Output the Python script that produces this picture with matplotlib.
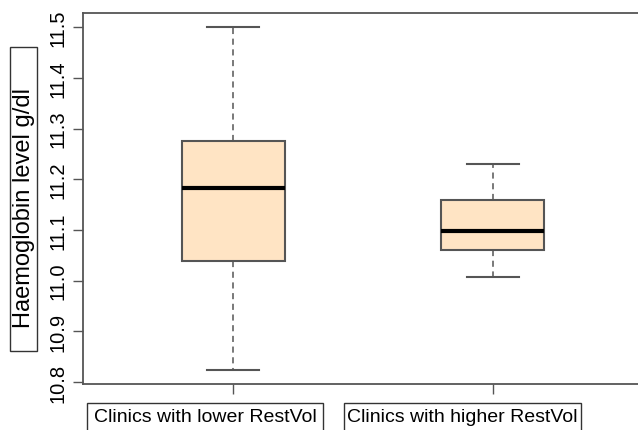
import matplotlib
matplotlib.use("Agg")
import matplotlib.pyplot as plt
from matplotlib.patches import Rectangle

# data
groups = ["Clinics with lower RestVol", "Clinics with higher RestVol"]
whisker_low = [10.823, 11.007]
q1 = [11.038, 11.061]
median = [11.183, 11.098]
q3 = [11.275, 11.159]
whisker_high = [11.500, 11.231]
yticks = [10.8, 10.9, 11.0, 11.1, 11.2, 11.3, 11.4, 11.5]
ylabel = "Haemoglobin level g/dl"

plt.rcParams['font.family'] = ['Liberation Sans', 'DejaVu Sans']

W, H = 638, 431
fig = plt.figure(figsize=(W / 100, H / 100), dpi=100)
ax = fig.add_axes([83 / W, 1 - 384.5 / H, (643 - 83) / W, (384.5 - 14) / H])

stats = []
for i in range(len(groups)):
    stats.append(dict(whislo=whisker_low[i], q1=q1[i], med=median[i],
                      q3=q3[i], whishi=whisker_high[i], fliers=[]))

grey = '#555555'
ax.bxp(stats, positions=[1, 2], widths=0.4, patch_artist=True, showfliers=False,
       boxprops=dict(facecolor='#FFE4C4', edgecolor=grey, linewidth=1.5),
       medianprops=dict(color='black', linewidth=3),
       whiskerprops=dict(color=grey, linestyle=(0, (4, 3)), linewidth=1.1),
       capprops=dict(color=grey, linewidth=1.5))

ax.set_xlim(0.42, 2.58)
ax.set_ylim(10.797, 11.528)
ax.set_xticks([1, 2])
ax.set_xticklabels(['', ''])
ax.set_yticks(yticks)
ax.set_yticklabels([f"{v:.1f}" for v in yticks], rotation=90, va='center')
ax.tick_params(axis='both', direction='out', length=7, width=1, color=grey,
               labelsize=14.5, pad=4)
for s in ax.spines.values():
    s.set_color(grey)
    s.set_linewidth(1.3)

# x group labels in boxes
label_boxes = [(87, 323), (344, 581)]
for (x0, x1), g in zip(label_boxes, groups):
    fig.patches.append(Rectangle((x0 / W, 1 - 440 / H), (x1 - x0) / W, (440 - 404) / H,
                                 transform=fig.transFigure, fill=False,
                                 edgecolor='#333333', linewidth=1))
    fig.text((x0 + x1) / 2 / W, 1 - 418 / H, g, ha='center', va='center', fontsize=14)

# y label in box
fig.patches.append(Rectangle((10 / W, 1 - 352 / H), 27 / W, (352 - 48) / H,
                             transform=fig.transFigure, fill=False,
                             edgecolor='#333333', linewidth=1))
fig.text(24 / W, 1 - 208 / H, ylabel, rotation=90, ha='center', va='center', fontsize=17)

fig.savefig("out.png", dpi=100)
